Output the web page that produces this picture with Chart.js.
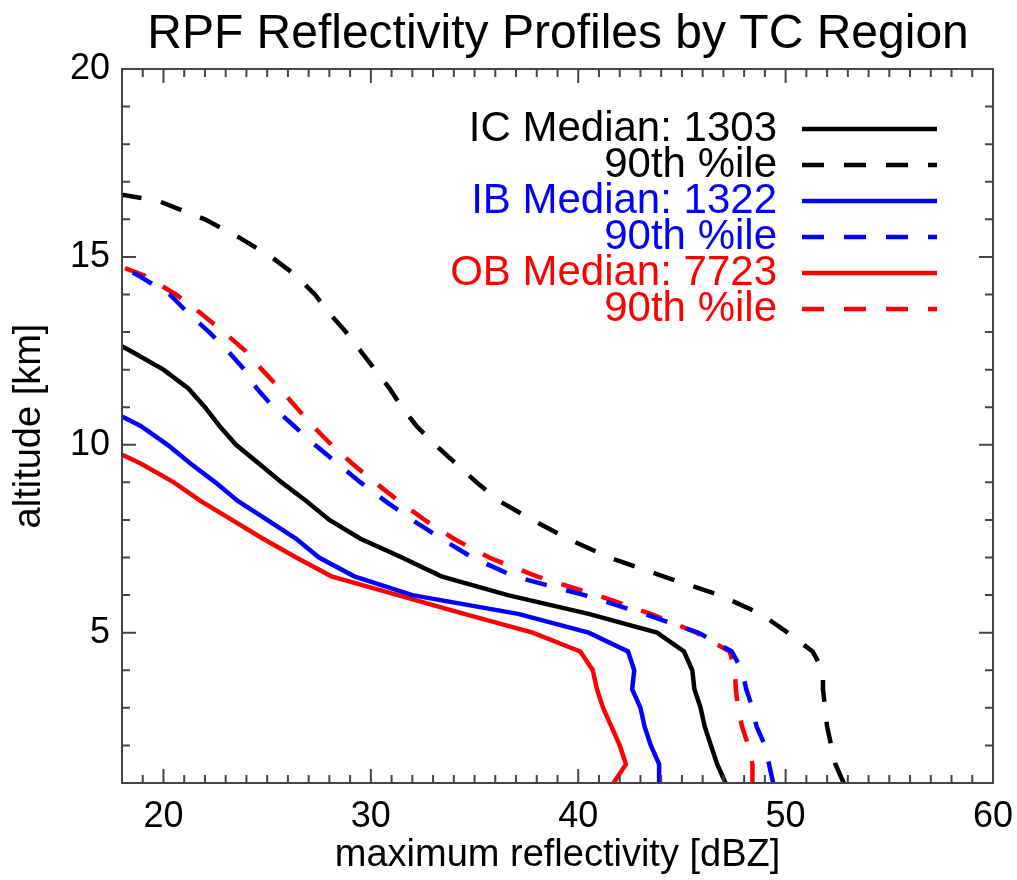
<!DOCTYPE html>
<html lang="en">
<head>
    <meta charset="UTF-8">
    <title>RPF Reflectivity Profiles by TC Region</title>
    <script src="https://cdn.jsdelivr.net/npm/chart.js"></script>
    <style>
        body {
            margin: 0;
            padding: 0;
            background-color: #ffffff;
        }

        #wrap {
            width: 1017px;
            height: 880px;
        }
    </style>
</head>
<body>
<div id="wrap">
    <canvas id="rpfChart" width="1017" height="880"></canvas>
</div>

<script>
    // altitude levels [km], shared by every profile
    const altitudes = [1.0, 1.5, 2.0, 2.5, 3.0, 3.5, 4.0, 4.5, 5.0, 5.5, 6.0, 6.5, 7.0, 7.5, 8.0, 8.5,
        9.0, 9.5, 10.0, 10.5, 11.0, 11.5, 12.0, 12.5, 13.0, 13.5, 14.0, 14.5, 15.0, 15.5, 16.0, 16.5, 17.0];

    // maximum reflectivity [dBZ] per altitude level
    const icMedian = [47.1, 46.7, 46.4, 46.1, 45.9, 45.6, 45.5, 45.1, 43.8, 40.5, 36.6, 33.4, 31.5, 29.5, 28.0, 26.9,
        25.7, 24.6, 23.5, 22.7, 22.0, 21.2, 20.0, 18.4, 16.7];
    const icP90 = [52.8, 52.4, 52.2, 52.0, 51.9, 51.8, 51.8, 51.3, 50.1, 48.8, 46.8, 44.1, 41.5, 39.5, 37.8, 36.2,
        35.1, 34.1, 33.1, 32.2, 31.5, 30.9, 30.2, 29.5, 28.8, 28.0, 27.3, 26.4, 25.2, 23.7, 22.0, 19.7, 14.2];
    const ibMedian = [43.9, 43.9, 43.5, 43.2, 43.0, 42.6, 42.7, 42.4, 40.5, 37.1, 32.0, 29.2, 27.5, 26.4, 25.0, 23.6,
        22.5, 21.3, 20.2, 18.9, 17.1];
    const ibP90 = [49.4, 49.2, 49.0, 48.6, 48.4, 48.1, 47.9, 47.4, 45.8, 43.2, 40.3, 36.9, 34.9, 33.4, 32.0, 30.7,
        29.5, 28.4, 27.3, 26.3, 25.3, 24.5, 23.9, 23.1, 22.2, 21.2, 20.3, 18.8, 17.1];
    const obMedian = [41.7, 42.3, 42.0, 41.6, 41.2, 40.9, 40.7, 40.1, 37.8, 34.5, 31.3, 28.1, 26.4, 24.8, 23.3, 21.8,
        20.5, 18.9, 17.0];
    const obP90 = [48.4, 48.4, 48.2, 47.9, 47.7, 47.6, 47.55, 47.3, 45.7, 43.5, 40.9, 38.0, 35.7, 34.0, 32.6, 31.35,
        30.2, 29.1, 28.1, 27.2, 26.4, 25.6, 24.75, 23.95, 22.9, 21.8, 20.6, 19.1, 16.7];

    const seriesLabels = ['IC Median: 1303', '90th %ile', 'IB Median: 1322', '90th %ile', 'OB Median: 7723', '90th %ile'];

    // axis ticks
    const xTicks = [20, 30, 40, 50, 60];
    const yTicks = [5, 10, 15, 20];

    const FONT = "'Liberation Sans', Arial, Helvetica, sans-serif";
    const BLACK = '#000000';
    const BLUE = '#0000ff';
    const RED = '#ff0000';
    const DASH = [22, 20];

    function toPoints(values) {
        return values.map((v, i) => ({x: v, y: altitudes[i]}));
    }

    function profile(label, values, color, dashed) {
        return {
            label: label,
            data: toPoints(values),
            showLine: true,
            borderColor: color,
            backgroundColor: color,
            borderWidth: 4.5,
            borderDash: dashed ? DASH : [],
            pointRadius: 0,
            tension: 0,
            clip: 0
        };
    }

    // frame, inward ticks, title and the text legend
    const decorations = {
        id: 'decorations',
        afterDatasetsDraw(chart) {
            const ctx = chart.ctx;
            const area = chart.chartArea;
            const xs = chart.scales.x;
            const ys = chart.scales.y;
            ctx.save();
            ctx.strokeStyle = '#444444';
            ctx.lineWidth = 2;
            ctx.strokeRect(area.left, area.top, area.right - area.left, area.bottom - area.top);

            ctx.beginPath();
            for (let v = 18; v <= 60; v++) {
                const len = v % 10 === 0 ? 14 : 8;
                const px = xs.getPixelForValue(v);
                ctx.moveTo(px, area.bottom);
                ctx.lineTo(px, area.bottom - len);
                ctx.moveTo(px, area.top);
                ctx.lineTo(px, area.top + len);
            }
            for (let v = 1; v <= 20; v++) {
                const len = v % 5 === 0 ? 14 : 8;
                const py = ys.getPixelForValue(v);
                ctx.moveTo(area.left, py);
                ctx.lineTo(area.left + len, py);
                ctx.moveTo(area.right, py);
                ctx.lineTo(area.right - len, py);
            }
            ctx.stroke();

            // title
            ctx.fillStyle = BLACK;
            ctx.font = '48px ' + FONT;
            ctx.textAlign = 'center';
            ctx.textBaseline = 'middle';
            ctx.fillText('RPF Reflectivity Profiles by TC Region', 558, 35);

            // legend: text right-aligned, line sample on the right
            const colors = [BLACK, BLACK, BLUE, BLUE, RED, RED];
            const rowY = [129, 165, 201, 237, 273, 309];
            ctx.font = '42px ' + FONT;
            ctx.textAlign = 'right';
            seriesLabels.forEach((label, i) => {
                ctx.fillStyle = colors[i];
                ctx.fillText(label, 777, rowY[i]);
                ctx.beginPath();
                ctx.strokeStyle = colors[i];
                ctx.lineWidth = 4.5;
                ctx.setLineDash(i % 2 === 1 ? DASH : []);
                ctx.moveTo(802, rowY[i]);
                ctx.lineTo(937, rowY[i]);
                ctx.stroke();
            });
            ctx.restore();
        }
    };

    const ctx = document.getElementById('rpfChart').getContext('2d');
    new Chart(ctx, {
        type: 'scatter',
        data: {
            datasets: [
                profile(seriesLabels[0], icMedian, BLACK, false),
                profile(seriesLabels[1], icP90, BLACK, true),
                profile(seriesLabels[2], ibMedian, BLUE, false),
                profile(seriesLabels[3], ibP90, BLUE, true),
                profile(seriesLabels[4], obMedian, RED, false),
                profile(seriesLabels[5], obP90, RED, true)
            ]
        },
        options: {
            responsive: false,
            animation: false,
            layout: {
                padding: {top: 69, right: 24, left: 0, bottom: 0}
            },
            plugins: {
                legend: {display: false},
                title: {display: false},
                tooltip: {enabled: false}
            },
            scales: {
                x: {
                    type: 'linear',
                    min: 18,
                    max: 60,
                    afterBuildTicks: scale => {
                        scale.ticks = xTicks.map(v => ({value: v}));
                    },
                    afterFit: scale => {
                        scale.height = 97;
                        scale.paddingLeft = 0;
                        scale.paddingRight = 0;
                    },
                    grid: {display: false, drawTicks: false},
                    border: {display: false},
                    ticks: {
                        color: BLACK,
                        padding: 16,
                        font: {family: FONT, size: 36, lineHeight: 1},
                        maxRotation: 0
                    },
                    title: {
                        display: true,
                        text: 'maximum reflectivity [dBZ]',
                        color: BLACK,
                        font: {family: FONT, size: 38, lineHeight: 1},
                        padding: {top: 0, bottom: 5}
                    }
                },
                y: {
                    type: 'linear',
                    min: 1,
                    max: 20,
                    afterBuildTicks: scale => {
                        scale.ticks = yTicks.map(v => ({value: v}));
                    },
                    afterFit: scale => {
                        scale.width = 122;
                        scale.paddingTop = 0;
                        scale.paddingBottom = 0;
                    },
                    grid: {display: false, drawTicks: false},
                    border: {display: false},
                    ticks: {
                        color: BLACK,
                        padding: 12,
                        font: {family: FONT, size: 36, lineHeight: 1}
                    },
                    title: {
                        display: true,
                        text: 'altitude [km]',
                        color: BLACK,
                        font: {family: FONT, size: 38, lineHeight: 1},
                        padding: {top: 11, bottom: 0}
                    }
                }
            }
        },
        plugins: [decorations]
    });
</script>
</body>
</html>
